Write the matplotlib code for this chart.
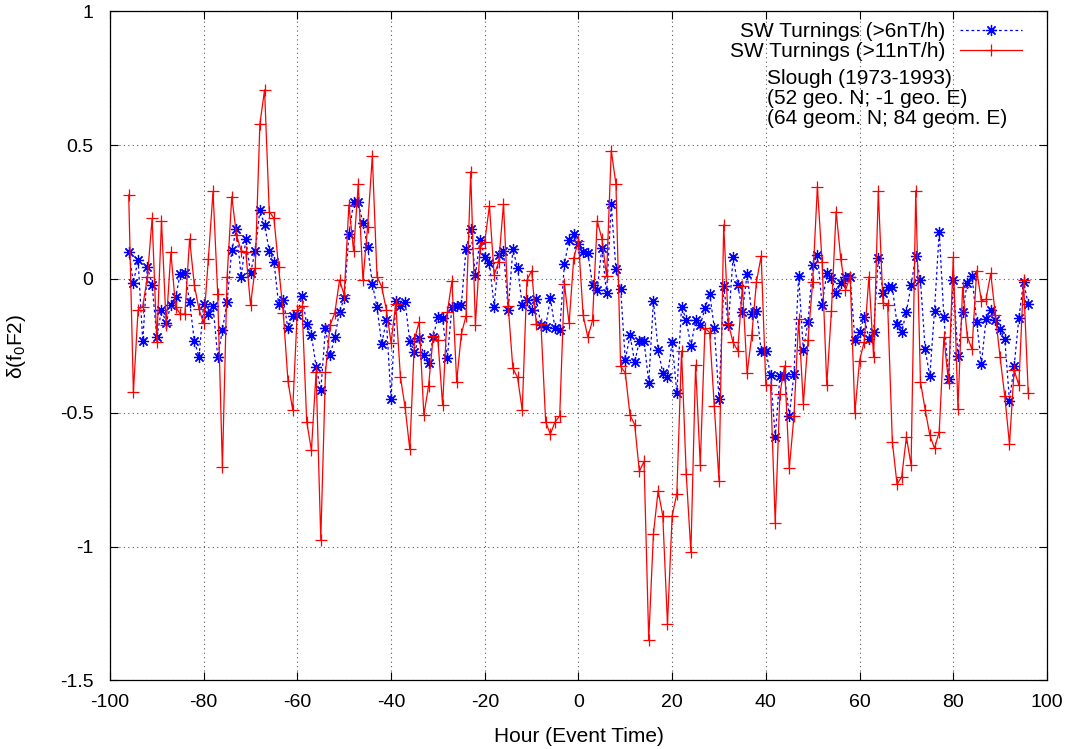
import numpy as np
import matplotlib
matplotlib.use("Agg")
import matplotlib.pyplot as plt
from matplotlib.ticker import FuncFormatter, MultipleLocator

# ------------------ Datos ------------------
horas = np.arange(-96, 97)

# SW Turnings (>11nT/h), de -96 a 96 h
dfof2_11 = [
    0.314, -0.424, -0.116, -0.103, 0.009, 0.227,
    -0.234, 0.218, -0.172, 0.100, -0.103, -0.131, -0.131, 0.150, -0.022, -0.113,
    -0.166, 0.075, 0.327, -0.057, -0.704, 0.006, 0.308, 0.165, 0.106, 0.099,
    -0.097, 0.040, 0.579, 0.707, 0.252, 0.227, 0.044, -0.128, -0.382, -0.490,
    -0.116, -0.101, -0.534, -0.640, -0.347, -0.974, -0.347, -0.172, -0.126, -0.004,
    -0.060, 0.277, 0.105, 0.354, -0.004, 0.196, 0.460, 0.009, -0.029, -0.116,
    -0.238, -0.093, -0.366, -0.480, -0.637, -0.226, -0.160, -0.509, -0.400, -0.213,
    -0.228, -0.471, -0.125, -0.007, -0.384, -0.206, -0.138, 0.401, -0.172, 0.115,
    0.140, 0.273, 0.015, 0.065, 0.281, -0.101, -0.334, -0.368, -0.490, -0.004,
    0.031, -0.168, -0.170, -0.534, -0.580, -0.534, -0.512, -0.018, -0.166, 0.079,
    0.143, -0.136, -0.218, -0.155, 0.218, 0.150, 0.011, 0.480, 0.355, -0.327,
    -0.351, -0.509, -0.544, -0.719, -0.681, -1.350, -0.953, -0.791, -0.885, -1.289,
    -0.885, -0.802, -0.269, -0.728, -1.020, -0.322, -0.695, -0.183, -0.200, -0.476,
    -0.755, 0.202, -0.168, -0.237, -0.268, -0.026, -0.353, -0.209, -0.010, 0.086,
    -0.397, -0.397, -0.911, -0.428, -0.325, -0.708, -0.512, -0.151, -0.468, -0.228,
    -0.010, 0.345, 0.065, -0.397, -0.118, 0.252, 0.074, -0.041, 0.009, -0.500,
    -0.305, -0.234, 0.009, -0.293, 0.327, -0.089, -0.097, -0.608, -0.767, -0.739,
    -0.590, -0.696, 0.330, -0.384, -0.488, -0.584, -0.633, -0.571, -0.218, -0.388,
    0.081, -0.484, -0.031, -0.216, -0.263, 0.031, -0.081, -0.076, 0.021, -0.135,
    -0.293, -0.438, -0.617, -0.340, -0.397, -0.004, -0.425,
]

# SW Turnings (>6nT/h)
dfof2_6 = [
    0.102, -0.014, 0.071, -0.232, 0.044, -0.022,
    -0.216, -0.116, -0.163, -0.097, -0.069, 0.019, 0.021, -0.085, -0.231, -0.291,
    -0.094, -0.132, -0.100, -0.291, -0.191, -0.085, 0.108, 0.186, 0.009, 0.148,
    0.021, 0.106, 0.258, 0.202, 0.106, 0.065, -0.094, -0.080, -0.185, -0.140,
    -0.134, -0.064, -0.170, -0.208, -0.328, -0.415, -0.185, -0.284, -0.216, -0.122,
    -0.072, 0.168, 0.286, 0.286, 0.208, 0.121, -0.018, -0.105, -0.243, -0.155,
    -0.450, -0.081, -0.100, -0.085, -0.233, -0.272, -0.220, -0.284, -0.313, -0.216,
    -0.141, -0.147, -0.297, -0.103, -0.101, -0.097, 0.111, 0.186, 0.015, 0.146,
    0.084, 0.059, -0.103, 0.090, 0.106, -0.116, 0.111, 0.042, -0.097, -0.079,
    -0.116, -0.076, -0.172, -0.178, -0.072, -0.185, -0.190, 0.056, 0.146, 0.169,
    0.129, 0.100, 0.097, -0.021, -0.040, 0.117, -0.054, 0.279, 0.036, -0.036,
    -0.304, -0.208, -0.312, -0.232, -0.232, -0.387, -0.082, -0.265, -0.351, -0.365,
    -0.236, -0.427, -0.103, -0.153, -0.251, -0.155, -0.172, -0.110, -0.055, -0.182,
    -0.450, -0.026, -0.172, 0.084, -0.022, -0.122, 0.019, -0.131, -0.118, -0.268,
    -0.268, -0.359, -0.590, -0.363, -0.363, -0.512, -0.355, 0.011, -0.266, -0.160,
    0.052, 0.090, -0.097, 0.021, 0.002, -0.054, -0.014, 0.006, 0.006, -0.228,
    -0.199, -0.141, -0.226, -0.197, 0.077, -0.051, -0.029, -0.031, -0.168, -0.197,
    -0.122, -0.022, 0.086, -0.004, -0.263, -0.363, -0.118, 0.177, -0.141, -0.372,
    -0.004, -0.288, -0.122, -0.014, 0.011, -0.160, -0.318, -0.151, -0.116, -0.153,
    -0.188, -0.226, -0.455, -0.325, -0.147, -0.010, -0.094,
]

etiqueta_6 = "SW Turnings (>6nT/h)"
etiqueta_11 = "SW Turnings (>11nT/h)"
info_estacion = ["Slough (1973-1993)", "(52 geo. N; -1 geo. E)", "(64 geom. N; 84 geom. E)"]

# ------------------ Estilo tipo gnuplot ------------------
plt.rcParams['font.family'] = ['Liberation Sans', 'DejaVu Sans']
plt.rcParams['axes.unicode_minus'] = False
plt.rcParams['mathtext.default'] = 'regular'

fig = plt.figure(figsize=(10.77, 7.49), dpi=100)
ax = fig.add_axes([0.1021, 0.0916, 0.8700, 0.8932])

# asterisco de 8 brazos, como el punto 3 de gnuplot
asterisco = (8, 2, 0)
ax.plot(horas, dfof2_6, color='blue', linestyle=(0, (2.2, 2.2)), linewidth=0.9,
        marker=asterisco, markersize=8, markeredgewidth=0.9, label=etiqueta_6)
ax.plot(horas, dfof2_11, color='red', linestyle='-', linewidth=0.9,
        marker='+', markersize=9, markeredgewidth=0.9, label=etiqueta_11)

ax.set_xlim(-100, 100)
ax.set_ylim(-1.5, 1)
ax.xaxis.set_major_locator(MultipleLocator(20))
ax.yaxis.set_major_locator(MultipleLocator(0.5))
ax.yaxis.set_major_formatter(FuncFormatter(lambda v, p: f"{v:g}"))

ax.grid(True, color='0.35', linestyle=(0, (1, 3)), linewidth=0.8)
ax.tick_params(direction='in', length=6, width=0.8, top=True, right=True,
               labelsize=14)
ax.tick_params(axis='x', pad=10)
ax.tick_params(axis='y', pad=12)
for s in ax.spines.values():
    s.set_linewidth(0.9)

ax.set_xlabel("Hour (Event Time)", fontsize=15, labelpad=11)
ax.set_ylabel("δ(f$_0$F2)", fontsize=15, labelpad=23)

# leyenda con la muestra a la derecha (como gnuplot)
ax.legend(loc='upper right', bbox_to_anchor=(1022 / 1077, 1 - 22 / 749),
          bbox_transform=fig.transFigure, markerfirst=False, frameon=False,
          fontsize=15, handlelength=3.0, handletextpad=0.7, labelspacing=0.06,
          borderpad=0, borderaxespad=0)

for i, linea in enumerate(info_estacion):
    fig.text(767 / 1077, 1 - (78 + 20 * i) / 749, linea, fontsize=15,
             ha='left', va='center')

plt.savefig('out.png', dpi=100)
plt.close()
